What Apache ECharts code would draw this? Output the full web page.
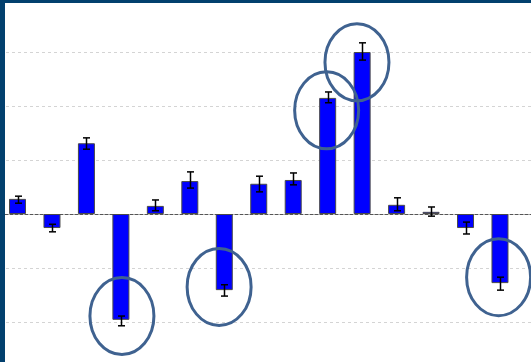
<!DOCTYPE html>
<html>
<head>
<meta charset="utf-8">
<script src="https://cdn.jsdelivr.net/npm/echarts@6/dist/echarts.min.js"></script>
<style>
  html, body { margin: 0; padding: 0; background: #fff; }
  #frame { position: relative; width: 531px; height: 362px; overflow: hidden; }
  /* taller than the window so that the -3..4 range lands on the right pixels */
  #chart { position: absolute; left: 0; top: -2px; width: 531px; height: 378px; }
</style>
</head>
<body>
<div id="frame"><div id="chart"></div></div>
<script>
// bar values (1 unit = one grid step)
const positions = [0, 1, 2, 3, 4, 5, 6, 7, 8, 9, 10, 11, 12, 13, 14]
const values = [0.28, -0.26, 1.31, -1.96, 0.15, 0.61, -1.41, 0.56, 0.63, 2.15, 3.0, 0.17, 0.04, -0.26, -1.28]
const errHigh = [0.33, -0.19, 1.41, -1.89, 0.26, 0.78, -1.31, 0.70, 0.76, 2.26, 3.17, 0.30, 0.13, -0.15, -1.17]
const errLow = [0.20, -0.33, 1.20, -2.07, 0.06, 0.48, -1.52, 0.41, 0.54, 2.06, 2.85, 0.06, -0.04, -0.37, -1.41]
// hand drawn circles (centre in data units)
const circleX = [3.03, 5.85, 8.97, 9.85, 13.96]
const circleY = [-1.89, -1.35, 1.92, 2.81, -1.17]

let myChart = echarts.init(document.getElementById('chart'))

myChart.setOption({
  animation: false,
  grid: {
    left: 0,
    right: 0,
    top: 0,
    bottom: 0
  },
  xAxis: {
    type: 'value',
    min: -0.508,
    max: 14.9,
    splitLine: { show: false },
    axisTick: { show: false },
    axisLabel: { show: false },
    axisLine: {
      show: true,
      onZero: true,
      lineStyle: { color: '#555', width: 1, type: [3, 2] }
    }
  },
  yAxis: {
    type: 'value',
    min: -3,
    max: 4,
    interval: 1,
    axisLine: { show: false },
    axisTick: { show: false },
    axisLabel: { show: false },
    splitLine: {
      lineStyle: { color: '#d4d4d4', width: 1, type: [3, 3] }
    }
  },
  series: [
    {
      type: 'bar',
      barWidth: 17,
      itemStyle: {
        color: '#0000ff',
        borderColor: '#4a4a4a',
        borderWidth: 1
      },
      data: positions.map((p, i) => [p, values[i]]),
      z: 2
    },
    {
      type: 'custom',
      data: positions.map((p, i) => [p, errHigh[i], errLow[i]]),
      renderItem: function (params, api) {
        let hi = api.coord([api.value(0), api.value(1)])
        let lo = api.coord([api.value(0), api.value(2)])
        let x = Math.round(hi[0]) + 0.5
        let cap = 3.5
        let style = { stroke: '#000', lineWidth: 1.5 }
        return {
          type: 'group',
          children: [
            { type: 'line', shape: { x1: x, y1: hi[1], x2: x, y2: lo[1] }, style: style },
            { type: 'line', shape: { x1: x - cap, y1: hi[1], x2: x + cap, y2: hi[1] }, style: style },
            { type: 'line', shape: { x1: x - cap, y1: lo[1], x2: x + cap, y2: lo[1] }, style: style }
          ]
        }
      },
      z: 3
    },
    {
      type: 'custom',
      data: circleX.map((cx, i) => [cx, circleY[i]]),
      renderItem: function (params, api) {
        let c = api.coord([api.value(0), api.value(1)])
        return {
          type: 'ellipse',
          shape: { cx: c[0], cy: c[1], rx: 32, ry: 38.5 },
          style: { fill: null, stroke: '#3f6290', lineWidth: 3 }
        }
      },
      z: 4
    }
  ],
  graphic: [
    { type: 'rect', left: 0, top: 0, shape: { width: 5, height: 378 }, style: { fill: '#02406e' }, z: 10 },
    { type: 'rect', left: 0, top: 0, shape: { width: 531, height: 5 }, style: { fill: '#02406e' }, z: 10 }
  ]
})
</script>
</body>
</html>
